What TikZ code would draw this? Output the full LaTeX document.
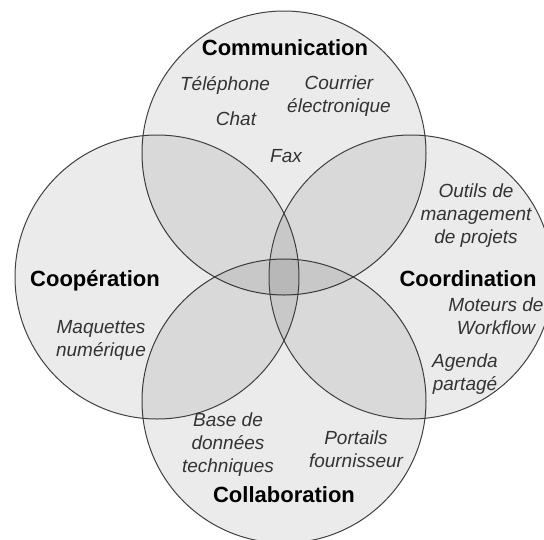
\documentclass[tikz,border=0pt]{standalone}
\usepackage{fontspec}
\setmainfont{Liberation Sans}
\usepackage{tikz}
\usetikzlibrary{positioning}
\tikzstyle{venn} = [circle, minimum size=284pt, draw=black!75, line width=1pt, fill=black, fill opacity=0.08]
\tikzstyle{title} = [font=\fontsize{22}{26}\selectfont\bfseries, anchor=base, inner sep=0pt]
\tikzstyle{item} = [font=\fontsize{19}{23}\selectfont\itshape, text=black!80, align=center, anchor=base, inner sep=0pt]

\begin{document}
\begin{tikzpicture}[x=1pt, y=-1pt, node distance=248pt]
		\useasboundingbox (0,0) rectangle (544,539);
		\clip (0,0) rectangle (544,539);
		%les quatre cercles
		\node (comm) [venn] at (284,153) {};
		\node (collab) [venn, below of=comm] {};
		\node (coop) [venn, below of=comm, node distance=124pt, xshift=-127pt] {};
		\node (coord) [venn, right of=coop, node distance=254pt] {};
		
		%titres
		\node (tcomm) [title] at (285,55) {Communication};
		\node (tcoop) [title] at (95,286) {Coopération};
		\node (tcoord) [title] at (468,286) {Coordination};
		\node (tcollab) [title] at (284,502) {Collaboration};
		
		%outils (position = ligne du bas)
		\node (tel) [item] at (225,90) {Téléphone};
		\node (mail) [item] at (339,112) {Courrier\\électronique};
		\node (chat) [item] at (236,125) {Chat};
		\node (fax) [item] at (286,162) {Fax};
		\node (projets) [item] at (476,243) {Outils de\\management\\de projets};
		\node (workflow) [item] at (496,334) {Moteurs de\\Workflow};
		\node (agenda) [item] at (465,390) {Agenda\\partagé};
		\node (maquettes) [item] at (101,356) {Maquettes\\numérique};
		\node (bdd) [item] at (228,472) {Base de\\données\\techniques};
		\node (portails) [item] at (356,467) {Portails\\fournisseur};
		
	\end{tikzpicture}
\end{document}
